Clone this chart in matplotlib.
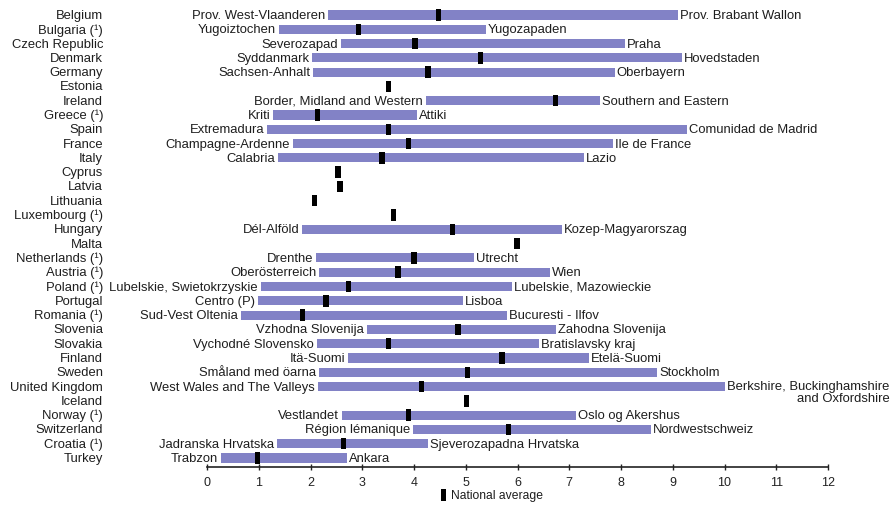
import matplotlib
matplotlib.use("Agg")
import matplotlib.pyplot as plt
import matplotlib.transforms as mtransforms
from matplotlib.patches import Rectangle
import numpy as np

countries = ["Belgium", "Bulgaria (¹)", "Czech Republic", "Denmark", "Germany", "Estonia",
             "Ireland", "Greece (¹)", "Spain", "France", "Italy", "Cyprus", "Latvia",
             "Lithuania", "Luxembourg (¹)", "Hungary", "Malta", "Netherlands (¹)",
             "Austria (¹)", "Poland (¹)", "Portugal", "Romania (¹)", "Slovenia", "Slovakia",
             "Finland", "Sweden", "United Kingdom", "Iceland", "Norway (¹)", "Switzerland",
             "Croatia (¹)", "Turkey"]

low_regions = ["Prov. West-Vlaanderen", "Yugoiztochen", "Severozapad", "Syddanmark",
               "Sachsen-Anhalt", None, "Border, Midland and Western", "Kriti", "Extremadura",
               "Champagne-Ardenne", "Calabria", None, None, None, None, "Dél-Alföld", None,
               "Drenthe", "Oberösterreich", "Lubelskie, Swietokrzyskie", "Centro (P)",
               "Sud-Vest Oltenia", "Vzhodna Slovenija", "Vychodné Slovensko", "Itä-Suomi",
               "Småland med öarna", "West Wales and The Valleys", None, "Vestlandet",
               "Région lémanique", "Jadranska Hrvatska", "Trabzon"]

high_regions = ["Prov. Brabant Wallon", "Yugozapaden", "Praha", "Hovedstaden", "Oberbayern",
                None, "Southern and Eastern", "Attiki", "Comunidad de Madrid", "Ile de France",
                "Lazio", None, None, None, None, "Kozep-Magyarorszag", None, "Utrecht", "Wien",
                "Lubelskie, Mazowieckie", "Lisboa", "Bucuresti - Ilfov", "Zahodna Slovenija",
                "Bratislavsky kraj", "Etelä-Suomi", "Stockholm",
                "Berkshire, Buckinghamshire\nand Oxfordshire", None, "Oslo og Akershus",
                "Nordwestschweiz", "Sjeverozapadna Hrvatska", "Ankara"]

low_values = [2.34, 1.39, 2.59, 2.03, 2.05, None, 4.23, 1.28, 1.16, 1.66, 1.37, None, None,
              None, None, 1.84, None, 2.11, 2.17, 1.04, 0.99, 0.65, 3.09, 2.13, 2.73, 2.17,
              2.14, None, 2.61, 3.98, 1.35, 0.27]

high_values = [9.10, 5.39, 8.08, 9.18, 7.88, None, 7.59, 4.06, 9.28, 7.85, 7.28, None, None,
               None, None, 6.86, None, 5.16, 6.63, 5.89, 4.95, 5.80, 6.74, 6.42, 7.38, 8.70,
               10.01, None, 7.13, 8.58, 4.27, 2.70]

national_avg = [4.48, 2.92, 4.02, 5.29, 4.27, 3.50, 6.74, 2.14, 3.50, 3.90, 3.38, 2.53, 2.57,
                2.07, 3.61, 4.75, 5.99, 4.00, 3.69, 2.73, 2.30, 1.85, 4.85, 3.50, 5.70, 5.04,
                4.15, 5.02, 3.89, 5.82, 2.63, 0.97]

x_ticks = list(range(0, 13))
legend_label = "National average"

BAR = "#8282C6"
TXT = "#1e1e1e"
FONT = "Liberation Sans"
FS = 9.4
plt.rcParams["font.family"] = [FONT, "DejaVu Sans"]

W, H = 893, 506
fig = plt.figure(figsize=(W / 100, H / 100), dpi=100)
ax = fig.add_axes([207 / W, 38 / H, 621 / W, (468 - 7.4) / H])

n = len(countries)
for i in range(n):
    lo, hi = low_values[i], high_values[i]
    if lo is not None:
        ax.barh(i, hi - lo, left=lo, height=0.64, color=BAR, linewidth=0)
        ax.annotate(low_regions[i], xy=(lo, i), xytext=(-3, 0), textcoords="offset pixels",
                    ha="right", va="center", fontsize=FS, color=TXT)
        multi = "\n" in high_regions[i]
        ax.annotate(high_regions[i], xy=(hi, i), xytext=(2, 7 if multi else 0),
                    textcoords="offset pixels", ha="left",
                    va="top" if multi else "center",
                    fontsize=FS, color=TXT, multialignment="right", linespacing=1.05)
    ax.barh(i, 0.1, left=national_avg[i] - 0.05, height=0.8, color="black", linewidth=0)

trans = mtransforms.blended_transform_factory(fig.transFigure, ax.transData)
for i, c in enumerate(countries):
    ax.text(103 / W, i, c, transform=trans, ha="right", va="center", fontsize=FS, color=TXT)

ax.set_xlim(0, 12)
ax.set_ylim(n - 1 + 0.63, -0.6)
ax.set_xticks(x_ticks)
ax.set_xticklabels([str(t) for t in x_ticks])
ax.set_yticks([])
for s in ["left", "top", "right"]:
    ax.spines[s].set_visible(False)
ax.spines["bottom"].set_linewidth(1.2)
ax.spines["bottom"].set_color("#222222")
ax.tick_params(axis="x", direction="inout", length=5, width=1, pad=4, labelsize=9,
               colors="#222222")

fig.patches.append(Rectangle((441 / W, 1 - 502 / H), 5 / W, 12 / H, transform=fig.transFigure,
                             facecolor="black", edgecolor="none"))
fig.text(451 / W, 1 - 496 / H, legend_label, ha="left", va="center", fontsize=8.7, color=TXT)

fig.savefig("out.png", dpi=100)
